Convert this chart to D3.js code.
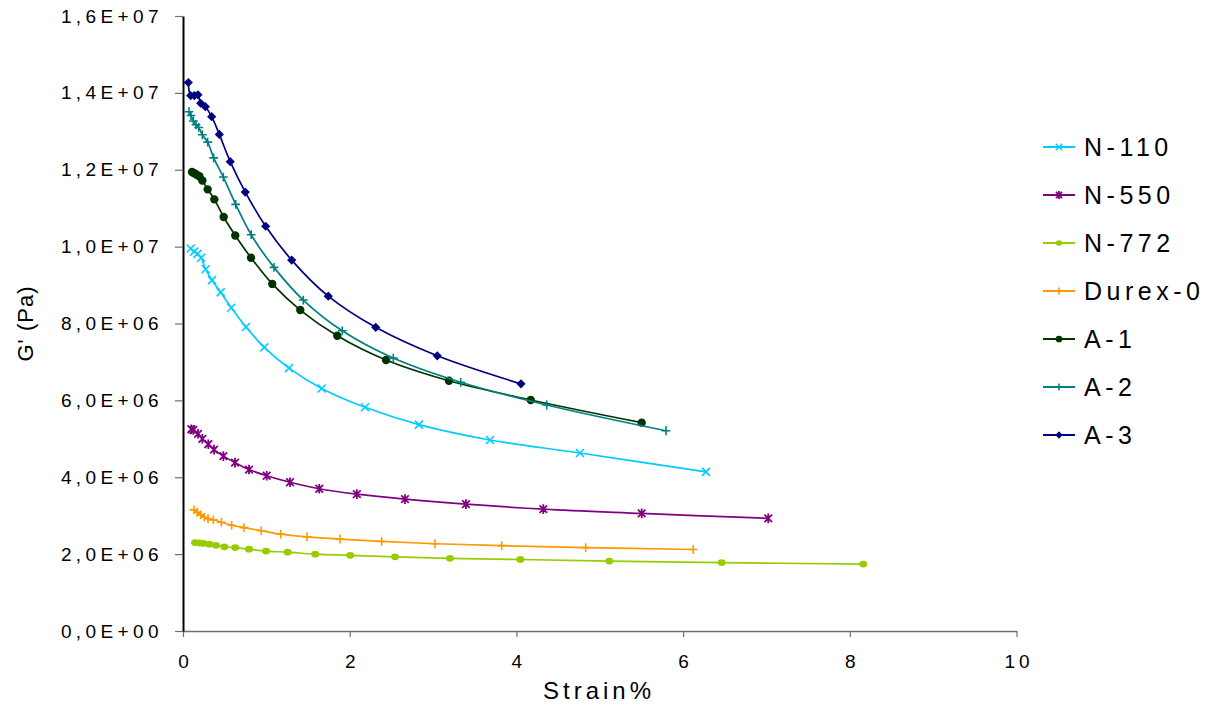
<!DOCTYPE html>
<html>
<head>
<meta charset="utf-8">
<script src="https://cdn.jsdelivr.net/npm/d3@7"></script>
<style>
  html, body { margin: 0; padding: 0; background: #fff; }
  svg { display: block; font-family: "Liberation Sans", Arial, sans-serif; }
</style>
</head>
<body>
<svg id="chart" width="1215" height="706"></svg>
<script>
// Storage modulus G' (Pa) versus strain (%) for seven filler grades.

const seriesNames = ["N-110", "N-550", "N-772", "Durex-0", "A-1", "A-2", "A-3"];

// strain %, G' in Pa
const n110Strain = [0.092, 0.134, 0.174, 0.218, 0.272, 0.348, 0.452, 0.579, 0.756, 0.975, 1.272, 1.664, 2.184, 2.831, 3.683, 4.763, 6.275];
const n110G = [9.95e6, 9.87e6, 9.81e6, 9.71e6, 9.41e6, 9.13e6, 8.81e6, 8.41e6, 7.91e6, 7.38e6, 6.84e6, 6.31e6, 5.82e6, 5.37e6, 4.97e6, 4.63e6, 4.14e6];

const n550Strain = [0.100, 0.124, 0.180, 0.232, 0.304, 0.372, 0.484, 0.624, 0.792, 1.004, 1.284, 1.635, 2.086, 2.663, 3.395, 4.323, 5.503, 7.022];
const n550G = [5.25e6, 5.23e6, 5.13e6, 5.00e6, 4.86e6, 4.72e6, 4.55e6, 4.38e6, 4.20e6, 4.04e6, 3.87e6, 3.70e6, 3.56e6, 3.43e6, 3.30e6, 3.17e6, 3.06e6, 2.93e6];

const n772Strain = [0.144, 0.196, 0.244, 0.316, 0.396, 0.496, 0.627, 0.792, 0.996, 1.256, 1.587, 2.006, 2.544, 3.203, 4.047, 5.115, 6.463, 8.162];
const n772G = [2.30e6, 2.29e6, 2.28e6, 2.26e6, 2.23e6, 2.19e6, 2.17e6, 2.13e6, 2.08e6, 2.05e6, 2.00e6, 1.97e6, 1.93e6, 1.89e6, 1.86e6, 1.82e6, 1.78e6, 1.74e6];

const durexStrain = [0.132, 0.172, 0.212, 0.256, 0.300, 0.364, 0.460, 0.584, 0.732, 0.939, 1.172, 1.488, 1.884, 2.384, 3.023, 3.824, 4.831, 6.122];
const durexG = [3.15e6, 3.09e6, 3.02e6, 2.96e6, 2.92e6, 2.89e6, 2.83e6, 2.75e6, 2.69e6, 2.61e6, 2.52e6, 2.45e6, 2.39e6, 2.33e6, 2.27e6, 2.22e6, 2.17e6, 2.12e6];

const a1Strain = [0.108, 0.136, 0.164, 0.196, 0.232, 0.296, 0.376, 0.488, 0.627, 0.816, 1.071, 1.407, 1.851, 2.436, 3.191, 4.172, 5.503];
const a1G = [11.94e6, 11.91e6, 11.87e6, 11.83e6, 11.72e6, 11.49e6, 11.23e6, 10.77e6, 10.29e6, 9.71e6, 9.03e6, 8.35e6, 7.68e6, 7.05e6, 6.51e6, 6.01e6, 5.42e6];

const a2Strain = [0.072, 0.096, 0.124, 0.156, 0.188, 0.232, 0.296, 0.368, 0.484, 0.632, 0.818, 1.092, 1.443, 1.911, 2.523, 3.332, 4.364, 5.795];
const a2G = [13.51e6, 13.41e6, 13.27e6, 13.17e6, 13.10e6, 12.91e6, 12.72e6, 12.31e6, 11.81e6, 11.10e6, 10.31e6, 9.46e6, 8.61e6, 7.81e6, 7.10e6, 6.47e6, 5.88e6, 5.21e6];

const a3Strain = [0.064, 0.092, 0.136, 0.180, 0.212, 0.268, 0.344, 0.436, 0.567, 0.747, 0.992, 1.304, 1.743, 2.312, 3.051, 4.055];
const a3G = [14.27e6, 13.93e6, 13.93e6, 13.95e6, 13.73e6, 13.64e6, 13.38e6, 12.92e6, 12.21e6, 11.42e6, 10.53e6, 9.65e6, 8.71e6, 7.90e6, 7.16e6, 6.43e6];

const xTickValues = [0, 2, 4, 6, 8, 10];
const yTickValues = [0, 2e6, 4e6, 6e6, 8e6, 1e7, 1.2e7, 1.4e7, 1.6e7];
const yTickLabels = ["0,0E+00", "2,0E+06", "4,0E+06", "6,0E+06", "8,0E+06", "1,0E+07", "1,2E+07", "1,4E+07", "1,6E+07"];

const strainSets = [n110Strain, n550Strain, n772Strain, durexStrain, a1Strain, a2Strain, a3Strain];
const gSets = [n110G, n550G, n772G, durexG, a1G, a2G, a3G];
const colors = ["#00CCFF", "#800080", "#99CC00", "#FF9900", "#003300", "#008080", "#000080"];
const markers = ["cross", "asterisk", "ellipse", "plus", "circle", "plus", "diamond"];

const svg = d3.select("#chart");

const x = d3.scaleLinear().domain([0, 10]).range([183, 1016.5]);
const y = d3.scaleLinear().domain([0, 1.6e7]).range([631, 16]);

// X axis
const xAxis = svg.append("g")
  .attr("transform", `translate(0,${y(0)})`)
  .call(d3.axisBottom(x).tickValues(xTickValues).tickSize(6).tickPadding(18).tickSizeOuter(0));
xAxis.select(".domain").attr("stroke", "#707070").attr("stroke-width", 1.5);
xAxis.selectAll(".tick line").attr("stroke", "#707070").attr("stroke-width", 1.2);
xAxis.selectAll(".tick text")
  .attr("font-size", 19).attr("fill", "#000").attr("letter-spacing", "4px")
  .attr("font-family", "'Liberation Sans', Arial, sans-serif")
  .attr("dx", "2px");

// Y axis
const yAxis = svg.append("g")
  .attr("transform", `translate(${x(0)},0)`)
  .call(d3.axisLeft(y).tickValues(yTickValues).tickFormat((d, i) => yTickLabels[i]).tickSize(8).tickPadding(12).tickSizeOuter(0));
yAxis.select(".domain").attr("stroke", "#000").attr("stroke-width", 2);
yAxis.selectAll(".tick line").attr("stroke", "#707070").attr("stroke-width", 1.2);
yAxis.selectAll(".tick text")
  .attr("font-size", 19).attr("fill", "#000").attr("letter-spacing", "4.4px")
  .attr("font-family", "'Liberation Sans', Arial, sans-serif");

// Axis titles
svg.append("text")
  .attr("x", 599).attr("y", 699)
  .attr("text-anchor", "middle")
  .attr("font-size", 24).attr("letter-spacing", "4px")
  .text("Strain%");

svg.append("text")
  .attr("transform", `translate(33,${(y(0) + y(1.6e7)) / 2}) rotate(-90)`)
  .attr("text-anchor", "middle")
  .attr("font-size", 22).attr("letter-spacing", "1px")
  .text("G' (Pa)");

// Marker shapes
function drawMarker(sel, type, color, s) {
  const k = s || 1;
  if (type === "circle") {
    sel.append("circle").attr("r", 4.2 * k).attr("fill", color);
  } else if (type === "ellipse") {
    sel.append("ellipse").attr("rx", 4 * k).attr("ry", 3.4 * k).attr("fill", color);
  } else if (type === "diamond") {
    const a = 4.6 * k;
    sel.append("path").attr("d", `M0,${-a}L${a},0L0,${a}L${-a},0Z`).attr("fill", color);
  } else if (type === "cross") {
    const a = 4 * k;
    sel.append("path").attr("d", `M${-a},${-a}L${a},${a}M${-a},${a}L${a},${-a}`)
      .attr("stroke", color).attr("stroke-width", 1.6).attr("fill", "none");
  } else if (type === "asterisk") {
    const a = 3.8 * k;
    sel.append("path").attr("d", `M${-a},${-a}L${a},${a}M${-a},${a}L${a},${-a}M0,${-a - 1}L0,${a + 1}`)
      .attr("stroke", color).attr("stroke-width", 1.8).attr("fill", "none");
  } else if (type === "plus") {
    const a = 4.4 * k;
    sel.append("path").attr("d", `M${-a},0L${a},0M0,${-a}L0,${a}`)
      .attr("stroke", color).attr("stroke-width", 1.6).attr("fill", "none");
  }
}

const line = d3.line()
  .x(d => x(d[0]))
  .y(d => y(d[1]))
  .curve(d3.curveCatmullRom.alpha(0.5));

// Series
seriesNames.forEach((name, i) => {
  const pts = strainSets[i].map((s, j) => [s, gSets[i][j]]);
  const g = svg.append("g").attr("class", "series");
  g.append("path")
    .attr("d", line(pts))
    .attr("fill", "none")
    .attr("stroke", colors[i])
    .attr("stroke-width", 1.7);
  pts.forEach(p => {
    const m = g.append("g").attr("transform", `translate(${x(p[0])},${y(p[1])})`);
    drawMarker(m, markers[i], colors[i], 1);
  });
});

// Legend
const legend = svg.append("g").attr("transform", "translate(1043,147)");
seriesNames.forEach((name, i) => {
  const row = legend.append("g").attr("transform", `translate(0,${i * 48})`);
  row.append("line")
    .attr("x1", 0).attr("x2", 32).attr("y1", 0).attr("y2", 0)
    .attr("stroke", colors[i]).attr("stroke-width", 2);
  const m = row.append("g").attr("transform", "translate(16,0)");
  drawMarker(m, markers[i], colors[i], 0.8);
  row.append("text")
    .attr("x", 41).attr("y", 0).attr("dy", "0.36em")
    .attr("font-size", 25).attr("letter-spacing", "4.5px")
    .text(name);
});
</script>
</body>
</html>
